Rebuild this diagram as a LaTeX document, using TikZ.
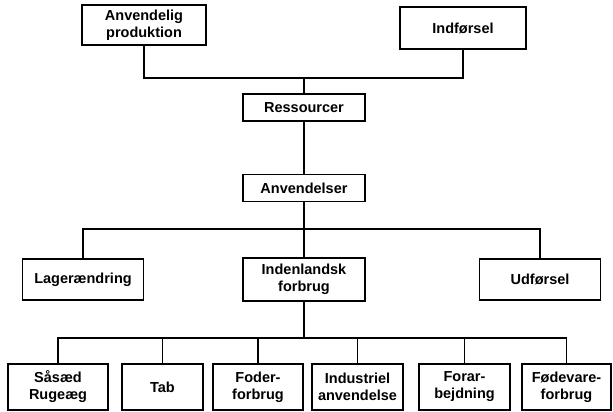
\documentclass[tikz,border=0pt]{standalone}
\usepackage{fontspec}
\setmainfont{Liberation Sans}
\begin{document}
\begin{tikzpicture}[x=1pt,y=-1pt,
  box/.style={draw, line width=1.6pt, inner sep=0pt, align=center,
    font=\fontsize{14.5}{17}\selectfont\bfseries},
  conn/.style={line width=1.4pt}]
\useasboundingbox (0,0) rectangle (613,412);
% top row
\node[box, minimum width=124pt, minimum height=40pt] (ap) at (144,25) {Anvendelig\\produktion};
\node[box, minimum width=126pt, minimum height=42pt] (ind) at (463,28) {Indførsel};
\node[box, minimum width=122pt, minimum height=27pt] (res) at (304,107.5) {Ressourcer};
\node[box, minimum width=122pt, minimum height=27pt] (anv) at (304,188) {Anvendelser};
% middle row
\node[box, minimum width=121pt, minimum height=41pt] (lag) at (83,279.5) {Lagerændring};
\node[box, minimum width=122pt, minimum height=43pt] (inl) at (304,279.5) {Indenlandsk\\forbrug};
\node[box, minimum width=121pt, minimum height=41pt] (udf) at (540,279.5) {Udførsel};
% bottom row
\node[box, minimum width=100pt, minimum height=46pt] (saa) at (58,387) {Såsæd\\Rugeæg};
\node[box, minimum width=81pt, minimum height=46pt] (tab) at (162.5,387) {Tab};
\node[box, minimum width=90pt, minimum height=46pt] (fod) at (258,387) {Foder-\\forbrug};
\node[box, minimum width=91pt, minimum height=46pt] (indu) at (357.5,387) {Industriel\\anvendelse};
\node[box, minimum width=91pt, minimum height=46pt] (for) at (464.5,387) {Forar-\\bejdning};
\node[box, minimum width=89pt, minimum height=46pt] (fdv) at (566.5,387) {Fødevare-\\forbrug};
% junctions
\coordinate (j1) at (304,78);
\coordinate (j2) at (304,229);
\coordinate (j3) at (304,338);
% connectors
\draw[conn] (ap.south) -- (ap.south |- j1) -- (ind.south |- j1) -- (ind.south);
\draw[conn] (j1) -- (res.north);
\draw[conn] (res.south) -- (anv.north);
\draw[conn] (anv.south) -- (inl.north);
\draw[conn] (lag.north) -- (lag.north |- j2) -- (udf.north |- j2) -- (udf.north);
\draw[conn] (inl.south) -- (j3);
\draw[conn] (saa.north) -- (saa.north |- j3) -- (fdv.north |- j3) -- (fdv.north);
\draw[conn] (tab.north) -- (tab.north |- j3);
\draw[conn] (fod.north) -- (fod.north |- j3);
\draw[conn] (indu.north) -- (indu.north |- j3);
\draw[conn] (for.north) -- (for.north |- j3);
\end{tikzpicture}
\end{document}
